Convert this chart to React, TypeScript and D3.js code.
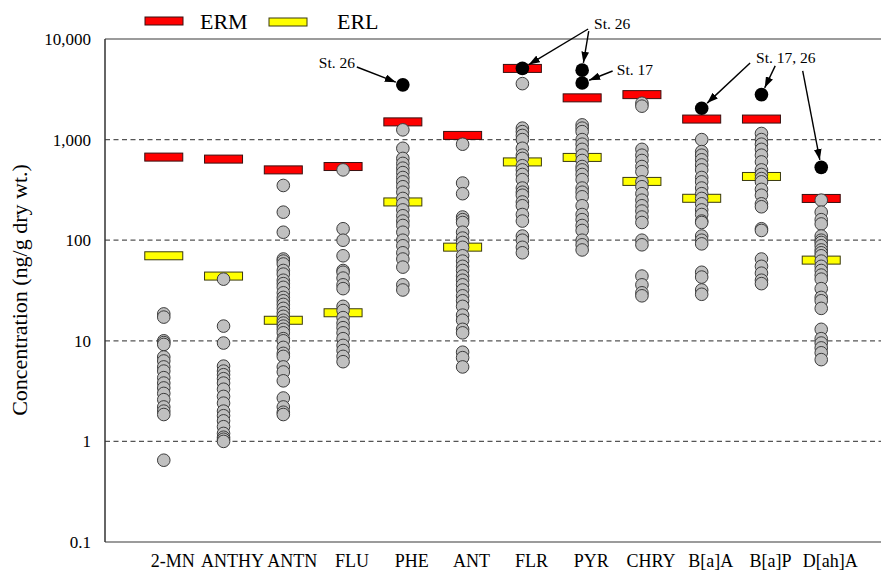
import React from "react";
import * as d3 from "d3";

// ---------- data ----------
const categories = ["2-MN", "ANTHY", "ANTN", "FLU", "PHE", "ANT", "FLR", "PYR", "CHRY", "B[a]A", "B[a]P", "D[ah]A"];
const ermValues = [670, 640, 500, 540, 1500, 1100, 5100, 2600, 2800, 1600, 1600, 260];
const erlValues = [70, 44, 16, 19, 240, 85.3, 600, 665, 384, 261, 430, 63.4];

const mn2 = [18.5, 17.2, 10, 9.6, 9.2, 6.9, 6.3, 5.5, 5.0, 4.3, 3.8, 3.4, 3.0, 2.6, 2.2, 2.0, 1.85, 0.65];
const anthy = [41, 14, 9.5, 5.6, 5.0, 4.6, 4.2, 3.8, 3.3, 2.8, 2.4, 2.0, 1.8, 1.6, 1.4, 1.2, 1.1, 1.05, 1.0];
const antn = [350, 190, 120, 65, 62, 58, 50, 46, 40, 37, 34, 30, 27, 25, 23, 21, 19, 17.5, 16, 15, 14, 13, 12, 10.5, 10, 8.6, 7.5, 7, 5.5, 4.9, 4.0, 2.7, 2.2, 1.95, 1.85];
const flu = [500, 130, 100, 70, 50, 48, 42, 36, 33, 22, 20, 17, 15, 13.5, 12, 10.5, 9, 8, 7, 6.2];
const phe = [1250, 820, 650, 580, 520, 470, 420, 380, 340, 300, 260, 230, 200, 175, 155, 140, 120, 100, 88, 75, 65, 54, 36, 32];
const ant = [900, 370, 290, 170, 160, 150, 120, 105, 95, 85, 70, 62, 55, 50, 44, 40, 36, 32, 28, 25, 22, 18, 16, 13, 12, 7.7, 6.8, 5.5];
const flr = [3600, 1300, 1200, 1100, 1000, 820, 700, 650, 550, 500, 450, 400, 330, 300, 280, 240, 220, 180, 155, 110, 100, 85, 75];
const pyr = [1400, 1300, 1200, 1000, 900, 800, 700, 620, 540, 500, 450, 400, 330, 300, 270, 220, 180, 160, 140, 125, 100, 90, 80];
const chry = [2300, 2150, 800, 700, 620, 540, 480, 380, 340, 290, 250, 220, 195, 170, 150, 100, 90, 44, 36, 30, 28];
const baa = [1000, 760, 700, 630, 560, 500, 420, 380, 330, 290, 260, 230, 200, 180, 155, 150, 110, 100, 92, 48, 43, 32, 29];
const bap = [1150, 1000, 900, 800, 700, 600, 500, 450, 410, 380, 320, 280, 230, 215, 130, 125, 65, 55, 47, 40, 37];
const daha = [250, 190, 160, 145, 110, 100, 95, 88, 80, 75, 70, 62, 55, 50, 45, 41, 33, 27, 25, 21, 13, 10.5, 9.5, 8.5, 7.6, 6.5];
const samples = [mn2, anthy, antn, flu, phe, ant, flr, pyr, chry, baa, bap, daha];

// highlighted stations (black dots)
const highlightCats = ["PHE", "FLR", "PYR", "PYR", "B[a]A", "B[a]P", "D[ah]A"];
const highlightValues = [3500, 5100, 4900, 3650, 2050, 2800, 530];

// annotation labels (x in category units, y in concentration units)
const labelTexts = ["St. 26", "St. 26", "St. 17", "St. 17, 26"];
const labelX = [4.2, 8.2, 8.58, 10.91];
const labelY = [5150, 12570, 4400, 5780];
const labelAnchor = ["end", "start", "start", "start"];
// arrows: start (category units, concentration) -> highlight index
const arrowStartX = [4.23, 8.1, 8.11, 8.51, 10.81, 11.23, 11.69];
const arrowStartY = [5270, 12570, 12000, 4810, 5780, 5400, 4810];
const arrowTarget = [0, 1, 2, 3, 4, 5, 6];

const yTicks = [0.1, 1, 10, 100, 1000, 10000];
const gridValues = [1, 10, 100, 1000];

// ---------- layout ----------
const W = 881;
const H = 570;
const FONT = "'Times New Roman', 'Liberation Serif', serif";

export default function App() {
  const x = d3.scaleLinear().domain([0, 13]).range([104, 881]);
  const y = d3.scaleLog().domain([0.1, 10000]).range([542, 39]);
  const left = 105;
  const top = y(10000);
  const bottom = y(0.1);
  const barW = 38;
  const barH = 8;
  const r = 6.3;
  const fmt = (v: number) => (v < 1 ? String(v) : d3.format(",")(v));

  const colX = (cat: string) => x(categories.indexOf(cat) + 1);

  return (
    <svg
      width={W}
      height={H}
      style={{ position: "absolute", left: 0, top: 0, background: "#fff" }}
      fontFamily={FONT}
    >
      <defs>
        <marker
          id="arrow"
          viewBox="0 0 10 7"
          refX="10"
          refY="3.5"
          markerWidth="11"
          markerHeight="8"
          markerUnits="userSpaceOnUse"
          orient="auto"
        >
          <path d="M0,0 L10,3.5 L0,7 z" fill="#000" />
        </marker>
      </defs>

      {/* grid */}
      {gridValues.map((g) => (
        <line
          key={g}
          x1={left}
          x2={W}
          y1={y(g)}
          y2={y(g)}
          stroke="#555"
          strokeWidth={1.3}
          strokeDasharray="5,3.5"
        />
      ))}

      {/* frame */}
      <line x1={left} x2={W} y1={top} y2={top} stroke="#7a7a7a" strokeWidth={1.5} />
      <line x1={left} x2={W} y1={bottom} y2={bottom} stroke="#7a7a7a" strokeWidth={1.5} />
      <line x1={left} x2={left} y1={top} y2={bottom} stroke="#333" strokeWidth={1.5} />

      {/* y tick labels */}
      {yTicks.map((t) => (
        <text key={t} x={91} y={y(t)} dy="0.35em" textAnchor="end" fontSize={17} fill="#000">
          {fmt(t)}
        </text>
      ))}

      {/* y title */}
      <text
        transform={`translate(27,290) rotate(-90)`}
        textAnchor="middle"
        fontSize={22}
        fill="#000"
      >
        Concentration (ng/g dry wt.)
      </text>

      {/* x labels */}
      {categories.map((c, i) => (
        <text key={c} x={x(i + 1) + 9} y={567} textAnchor="middle" fontSize={18} fill="#000">
          {c}
        </text>
      ))}

      {/* ERM / ERL bars */}
      {categories.map((c, i) => (
        <g key={"b" + c}>
          <rect
            x={x(i + 1) - barW / 2}
            y={y(ermValues[i]) - barH / 2}
            width={barW}
            height={barH}
            fill="#ff0000"
            stroke="#3a1010"
            strokeWidth={1}
          />
          <rect
            x={x(i + 1) - barW / 2}
            y={y(erlValues[i]) - barH / 2}
            width={barW}
            height={barH}
            fill="#ffff00"
            stroke="#3a3a10"
            strokeWidth={1}
          />
        </g>
      ))}

      {/* sample dots */}
      {samples.map((vals, i) =>
        vals.map((v, j) => (
          <circle
            key={i + "-" + j}
            cx={x(i + 1)}
            cy={y(v)}
            r={r}
            fill="#c0c0c0"
            stroke="#3c3c3c"
            strokeWidth={1}
          />
        ))
      )}

      {/* highlighted stations */}
      {highlightCats.map((c, k) => (
        <circle key={"h" + k} cx={colX(c)} cy={y(highlightValues[k])} r={6.8} fill="#000" />
      ))}

      {/* annotation labels */}
      {labelTexts.map((t, k) => (
        <text
          key={"l" + k}
          x={x(labelX[k])}
          y={y(labelY[k])}
          textAnchor={labelAnchor[k] as any}
          fontSize={15.5}
          fill="#000"
        >
          {t}
        </text>
      ))}

      {/* arrows */}
      {arrowTarget.map((ti, k) => {
        const x1 = x(arrowStartX[k]);
        const y1 = y(arrowStartY[k]);
        const cx = colX(highlightCats[ti]);
        const cy = y(highlightValues[ti]);
        const dx = cx - x1;
        const dy = cy - y1;
        const len = Math.sqrt(dx * dx + dy * dy);
        const off = 7.5;
        const x2 = cx - (dx / len) * off;
        const y2 = cy - (dy / len) * off;
        return (
          <line
            key={"a" + k}
            x1={x1}
            y1={y1}
            x2={x2}
            y2={y2}
            stroke="#000"
            strokeWidth={1.4}
            markerEnd="url(#arrow)"
          />
        );
      })}

      {/* legend */}
      <rect x={145} y={17} width={38} height={8} fill="#ff0000" stroke="#3a1010" strokeWidth={1} />
      <text x={200} y={29} fontSize={22} fill="#000">ERM</text>
      <rect x={269} y={18} width={38} height={8} fill="#ffff00" stroke="#3a3a10" strokeWidth={1} />
      <text x={337} y={29} fontSize={22} fill="#000">ERL</text>
    </svg>
  );
}
